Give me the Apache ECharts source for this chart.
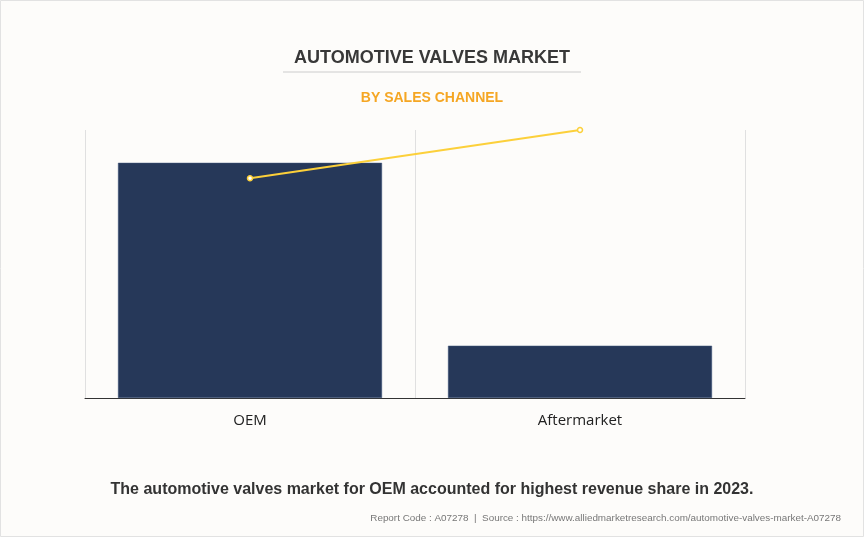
<!DOCTYPE html>
<html><head><meta charset="utf-8">
<script src="https://cdn.jsdelivr.net/npm/echarts@6/dist/echarts.min.js"></script>
<style>html,body{margin:0;padding:0;background:#fdfcfa;}#c{width:864px;height:537px;}</style>
</head><body><div id="c"></div>
<script>
const categories = ['OEM', 'Aftermarket'];
const barValues = [35.1, 7.8];
const lineValues = [8.2, 10];
const titleText = 'AUTOMOTIVE VALVES MARKET';
const subtitleText = 'BY SALES CHANNEL';
const footerText = 'The automotive valves market for OEM accounted for highest revenue share in 2023.';
const sourceText = 'Report Code : A07278  |  Source : https://www.alliedmarketresearch.com/automotive-valves-market-A07278';

const chart = echarts.init(document.getElementById('c'));
chart.setOption({
  backgroundColor: '#fdfcfa',
  animation: false,
  title: [
    {text: titleText, left: 'center', top: 44, textStyle: {fontFamily: 'Liberation Sans, Arial', fontWeight: 'bold', fontSize: 18, color: '#383838'}},
    {text: subtitleText, left: 'center', top: 86, textStyle: {fontFamily: 'Liberation Sans, Arial', fontWeight: 'bold', fontSize: 14, color: '#f5a623'}},
    {text: footerText, left: 'center', top: 477, textStyle: {fontFamily: 'Liberation Sans, Arial', fontWeight: 'bold', fontSize: 16, color: '#333333'}},
    {text: sourceText, right: 18, top: 508, textStyle: {fontFamily: 'Liberation Sans, Arial', fontWeight: 'normal', fontSize: 9.9, color: '#777777'}}
  ],
  graphic: [
    {type: 'line', shape: {x1: 283, y1: 72, x2: 581, y2: 72}, style: {stroke: '#cccccc', lineWidth: 1}},
    {type: 'rect', shape: {x: 0.5, y: 0.5, width: 863, height: 536}, style: {fill: 'none', stroke: '#e2e2e2', lineWidth: 1}}
  ],
  grid: {left: 85, right: 119, top: 130, bottom: 139},
  xAxis: {
    type: 'category', data: categories,
    axisLine: {lineStyle: {color: '#333', width: 1}},
    axisTick: {alignWithLabel: true, length: 4, lineStyle: {color: '#333'}},
    axisLabel: {fontFamily: 'Open Sans, Noto Sans', fontSize: 15, color: '#222', margin: 15},
    splitLine: {show: true, lineStyle: {color: '#e0e0e0'}}
  },
  yAxis: [
    {type: 'value', min: 0, max: 40, show: false, splitLine: {show: false}},
    {type: 'value', min: 0, max: 10, show: false, splitLine: {show: false}}
  ],
  series: [
    {type: 'bar', data: barValues, yAxisIndex: 0, barWidth: '80%',
     itemStyle: {color: '#263859', borderColor: '#3d5278', borderWidth: 0.5}},
    {type: 'line', data: lineValues, yAxisIndex: 1, symbol: 'circle', symbolSize: 5,
     lineStyle: {color: '#fcd03a', width: 2},
     itemStyle: {color: '#ffffff', borderColor: '#fcd03a', borderWidth: 1.5}}
  ]
});
</script></body></html>
